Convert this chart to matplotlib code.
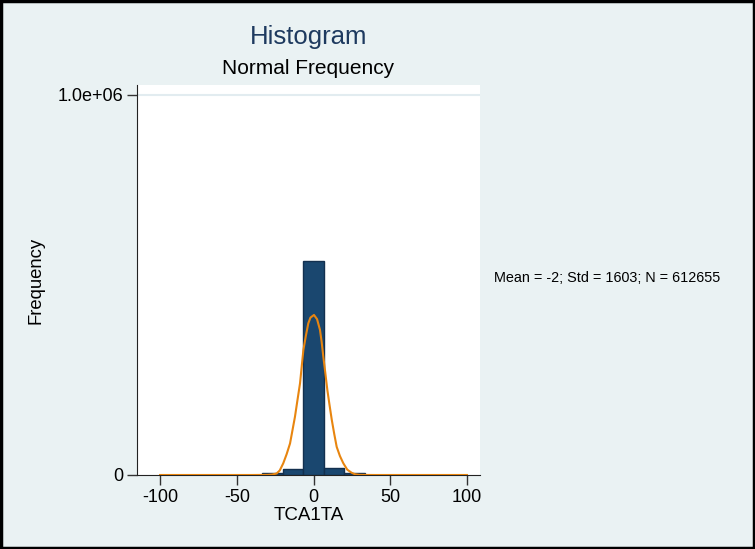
import matplotlib
matplotlib.use("Agg")
import matplotlib.pyplot as plt
import numpy as np

plt.rcParams['font.family'] = ['Liberation Sans', 'DejaVu Sans']

# Histogram: 15 bins from -100 to 100
bin_edges = np.linspace(-100, 100, 16)
bin_counts = [300, 300, 300, 300, 300, 6000, 17000, 563000, 18500, 6500, 300, 300, 300, 300, 300]

# Overlay curve
curve_x = [-100, -40, -30, -27, -24, -22, -19.7, -17.5, -15.3, -13.7,
           -12.1, -10.5, -8.8, -7.7, -6.6, -5, -3.4, -2, 0.3, 2.3,
           4.2, 5.3, 6.4, 7.7, 9.0, 10.4, 11.9, 13.5, 15.1, 17.2,
           19.4, 22, 24.8, 27, 30, 40, 100]
curve_y = [0, 0, 300, 1200, 4000, 12000, 31000, 55000, 83000, 118000,
           153000, 196000, 241000, 285000, 329000, 366000, 399000, 414000, 421000, 410000,
           382000, 350000, 311000, 268000, 224000, 185000, 145000, 108000, 74000, 50000,
           31000, 14000, 6000, 2000, 300, 0, 0]

x_ticks = [-100, -50, 0, 50, 100]
y_ticks = [0, 1.0e6]
y_tick_labels = ["0", "1.0e+06"]

title = "Histogram"
subtitle = "Normal Frequency"
x_label = "TCA1TA"
y_label = "Frequency"
note = "Mean = -2; Std = 1603; N = 612655"

bg = '#eaf2f3'
fig = plt.figure(figsize=(7.55, 5.49), dpi=100, facecolor=bg)
ax = fig.add_axes([0.1815, 0.1348, 0.4543, 0.7104])
ax.set_facecolor('white')

ax.axhline(1.0e6, color='#e2ecf0', lw=1.5, zorder=0)

centers = (bin_edges[:-1] + bin_edges[1:]) / 2
width = bin_edges[1] - bin_edges[0]
ax.bar(centers, bin_counts, width=width, color='#1a476f', edgecolor='#13304f', linewidth=1.0, zorder=2)
ax.plot(curve_x, curve_y, color='#e8850f', lw=1.5, zorder=3)

ax.set_xlim(-115, 108.5)
ax.set_ylim(0, 1.026e6)
ax.set_xticks(x_ticks)
ax.set_xticklabels([str(t) for t in x_ticks])
ax.set_yticks(y_ticks)
ax.set_yticklabels(y_tick_labels)
ax.tick_params(axis='both', direction='out', length=7, width=1, labelsize=13, color='#333333', pad=3)

for s in ['top', 'right']:
    ax.spines[s].set_visible(False)
ax.spines['left'].set_color('#222222')
ax.spines['bottom'].set_color('#222222')

ax.set_xlabel(x_label, fontsize=13.5, labelpad=1)
ax.set_ylabel(y_label, fontsize=13.3, labelpad=9)

fig.text(0.4086, 1 - 37/549, title, ha='center', va='center', fontsize=18.5, color='#1e3a5f')
fig.text(0.4086, 1 - 68/549, subtitle, ha='center', va='center', fontsize=15, color='black')
fig.text(494/755, 1 - 278/549, note, ha='left', va='center', fontsize=10.4, color='black')

border = plt.Rectangle((0.0015, 0.002), 0.997, 0.996, transform=fig.transFigure, fill=False, edgecolor='black', lw=2.5)
fig.patches.append(border)

fig.savefig('out.png', dpi=100, facecolor=bg)
